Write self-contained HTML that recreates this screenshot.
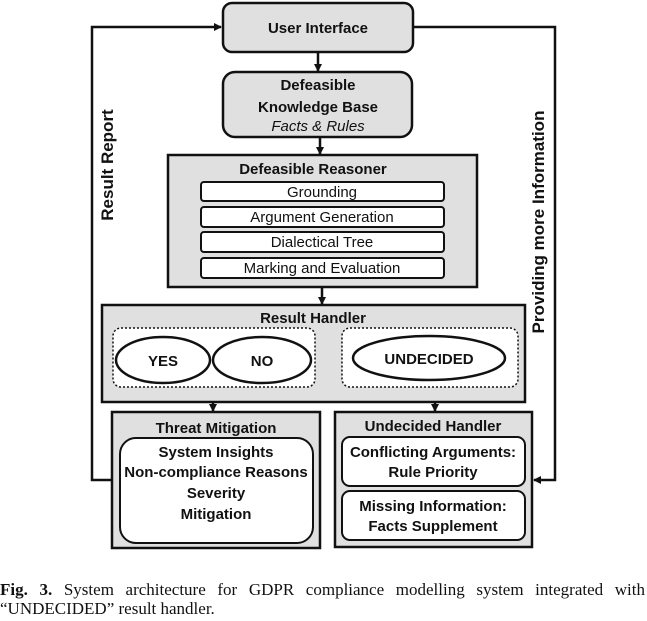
<!DOCTYPE html>
<html><head><meta charset="utf-8"><style>
html,body{margin:0;padding:0;background:#fff;}
svg{display:block;position:absolute;left:0;top:0;}
text{font-family:"Liberation Sans",sans-serif;fill:#111;}
.b{font-weight:bold;font-size:15px;}
.r{font-size:15px;}
.cap{position:absolute;left:0;top:580px;width:645px;font-family:"Liberation Serif",serif;font-size:17px;line-height:19px;color:#111;}
.l1{text-align:justify;text-align-last:justify;white-space:nowrap;display:block;}
</style></head><body>
<svg width="647" height="621" viewBox="0 0 647 621" xmlns="http://www.w3.org/2000/svg">
<defs><marker id="a" markerWidth="8" markerHeight="8" refX="7" refY="4" orient="auto" markerUnits="userSpaceOnUse"><path d="M0,0 L8,4 L0,8 z" fill="#111"/></marker></defs>
<g stroke="#111" stroke-width="2.5" fill="none">
<polyline points="112,480 92,480 92,27 221,27" marker-end="url(#a)"/>
<polyline points="413,27 555,27 555,480 534,480" marker-end="url(#a)"/>
<line x1="318" y1="52" x2="318" y2="71" marker-end="url(#a)"/>
<line x1="320" y1="137" x2="320" y2="154" marker-end="url(#a)"/>
<line x1="322" y1="287" x2="322" y2="304" marker-end="url(#a)"/>
<line x1="213" y1="387" x2="213" y2="411" marker-end="url(#a)"/>
<line x1="435" y1="387" x2="435" y2="411" marker-end="url(#a)"/>
</g>
<g stroke="#111" stroke-width="2.5" fill="#e0e0e0">
<rect x="223" y="3" width="190" height="49" rx="9"/>
<rect x="223" y="72" width="189" height="65" rx="12"/>
<rect x="168" y="155" width="309" height="132"/>
<rect x="102" y="305" width="423" height="97"/>
<rect x="112" y="412" width="208" height="136"/>
<rect x="335" y="412" width="197" height="135"/>
</g>
<g stroke="#111" stroke-width="2" fill="#fff">
<rect x="201" y="182" width="243" height="19" rx="3"/>
<rect x="201" y="207" width="243" height="20" rx="3"/>
<rect x="201" y="232" width="243" height="20" rx="3"/>
<rect x="201" y="258" width="243" height="20" rx="3"/>
<rect x="120" y="438" width="193" height="105" rx="16"/>
<rect x="342" y="437" width="183" height="49" rx="8"/>
<rect x="342" y="491" width="183" height="49" rx="8"/>
</g>
<g stroke="#111" stroke-width="1.5" fill="#fff" stroke-dasharray="2,2">
<rect x="113" y="328" width="202" height="59" rx="8"/>
<rect x="342" y="328" width="176" height="59" rx="8"/>
</g>
<g stroke="#111" stroke-width="2.5" fill="#fff">
<ellipse cx="163" cy="360" rx="47" ry="23"/>
<ellipse cx="262" cy="360" rx="49" ry="23"/>
<ellipse cx="429" cy="358" rx="76" ry="22"/>
</g>
<g text-anchor="middle">
<text class="b" x="318" y="33">User Interface</text>
<text class="b" x="318" y="90">Defeasible</text>
<text class="b" x="318" y="112">Knowledge Base</text>
<text class="r" x="318" y="131" font-style="italic">Facts &amp; Rules</text>
<text class="b" x="313" y="174">Defeasible Reasoner</text>
<text class="r" x="322" y="197">Grounding</text>
<text class="r" x="322" y="222">Argument Generation</text>
<text class="r" x="322" y="247">Dialectical Tree</text>
<text class="r" x="322" y="273">Marking and Evaluation</text>
<text class="b" x="313" y="323">Result Handler</text>
<text class="b" x="163" y="366">YES</text>
<text class="b" x="262" y="366">NO</text>
<text class="b" x="429" y="364">UNDECIDED</text>
<text class="b" x="216" y="433">Threat Mitigation</text>
<text class="b" x="433" y="431">Undecided Handler</text>
<text class="b" x="216" y="457" font-size="14">System Insights</text>
<text class="b" x="216" y="477" font-size="14">Non-compliance Reasons</text>
<text class="b" x="216" y="498" font-size="14">Severity</text>
<text class="b" x="216" y="519" font-size="14">Mitigation</text>
<text class="b" x="433" y="457" font-size="14">Conflicting Arguments:</text>
<text class="b" x="433" y="477" font-size="14">Rule Priority</text>
<text class="b" x="433" y="511" font-size="14">Missing Information:</text>
<text class="b" x="433" y="531" font-size="14">Facts Supplement</text>
<text font-weight="bold" font-size="17" transform="translate(113,165) rotate(-90)">Result Report</text>
<text font-weight="bold" font-size="17" transform="translate(544,222) rotate(-90)">Providing more Information</text>
</g>
</svg>
<div class="cap"><span class="l1"><b>Fig. 3.</b> System architecture for GDPR compliance modelling system integrated with</span>“UNDECIDED” result handler.</div>
</body></html>
